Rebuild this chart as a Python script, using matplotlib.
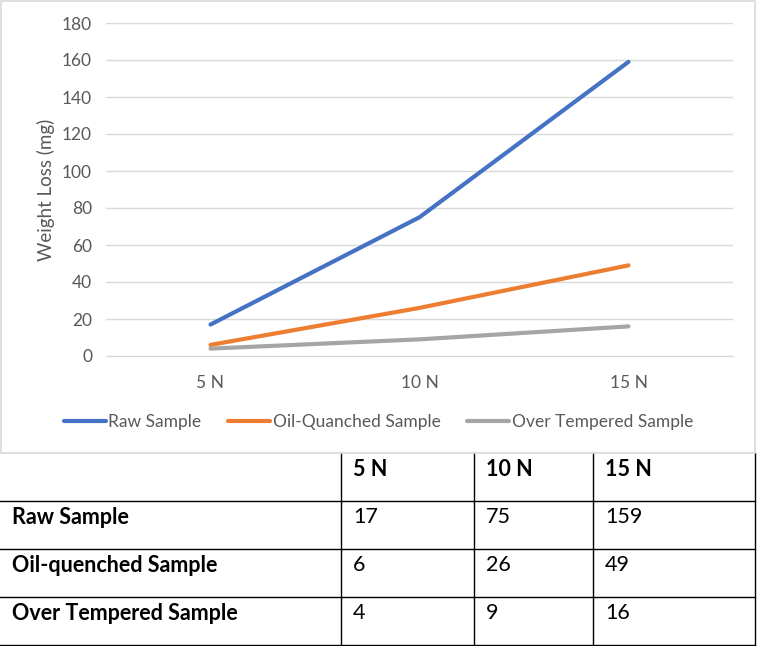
import matplotlib.pyplot as plt
from matplotlib.patches import Rectangle

# data
loads = ["5 N", "10 N", "15 N"]
raw = [17, 75, 159]
oil = [6, 26, 49]
over = [4, 9, 16]
series_names = ["Raw Sample", "Oil-Quanched Sample", "Over Tempered Sample"]
table_rows = ["Raw Sample", "Oil-quenched Sample", "Over Tempered Sample"]
colors = ["#4472C4", "#ED7D31", "#A5A5A5"]

W, H = 757, 646
fig = plt.figure(figsize=(W / 100, H / 100), dpi=100)
plt.rcParams['font.family'] = ['Lato', 'DejaVu Sans']

# chart frame
fig.patches.append(Rectangle((1 / W, 1 - 453 / H), 754 / W, 452 / H, transform=fig.transFigure,
                             fill=False, edgecolor="#D9D9D9", linewidth=1.2))

ax = fig.add_axes([106 / W, 1 - 356 / H, 627 / W, 333 / H])
x = range(len(loads))
for vals, name, c in zip([raw, oil, over], series_names, colors):
    ax.plot(x, vals, color=c, linewidth=3, label=name, solid_capstyle="round")

ax.set_xlim(-0.5, 2.5)
ax.set_ylim(0, 180)
ax.set_yticks(range(0, 181, 20))
ax.set_xticks(list(x))
ax.set_xticklabels(loads)
ax.grid(axis="y", color="#D9D9D9", linewidth=1)
ax.set_axisbelow(True)
for s in ["top", "right", "left"]:
    ax.spines[s].set_visible(False)
ax.spines["bottom"].set_color("#D9D9D9")
ax.tick_params(length=0, labelsize=12.5, colors="#595959", pad=10)
ax.tick_params(axis="x", pad=14)
ax.set_ylabel("Weight Loss (mg)", fontsize=13.5, color="#595959", labelpad=5)

fig.legend(loc="center", bbox_to_anchor=(0.5, 1 - 422 / H), ncol=3, frameon=False,
           fontsize=12.5, labelcolor="#595959", handlelength=2.4, handletextpad=0.15,
           columnspacing=1.55)

# table
tax = fig.add_axes([0, 0, 1, 1])
tax.set_xlim(0, W)
tax.set_ylim(H, 0)
tax.axis("off")
col_x = [0, 341, 474, 593, 755]
row_y = [453, 501, 549, 597, 645]
for cx in col_x[1:]:
    tax.plot([cx, cx], [row_y[0], row_y[-1]], color="black", linewidth=1)
for ry in row_y[1:]:
    tax.plot([0, 755], [ry, ry], color="black", linewidth=1)
for j, lab in enumerate(loads):
    tax.text(col_x[j + 1] + 12, row_y[0] + 16, lab, fontsize=15.5, fontweight="bold",
             va="center", ha="left")
for i, (name, vals) in enumerate(zip(table_rows, [raw, oil, over])):
    yc = row_y[i + 1] + 16
    tax.text(12, yc, name, fontsize=15.5, fontweight="bold", va="center", ha="left")
    for j, v in enumerate(vals):
        tax.text(col_x[j + 1] + 12, yc, str(v), fontsize=15.5, va="center", ha="left")

fig.savefig("out.png", dpi=100)
